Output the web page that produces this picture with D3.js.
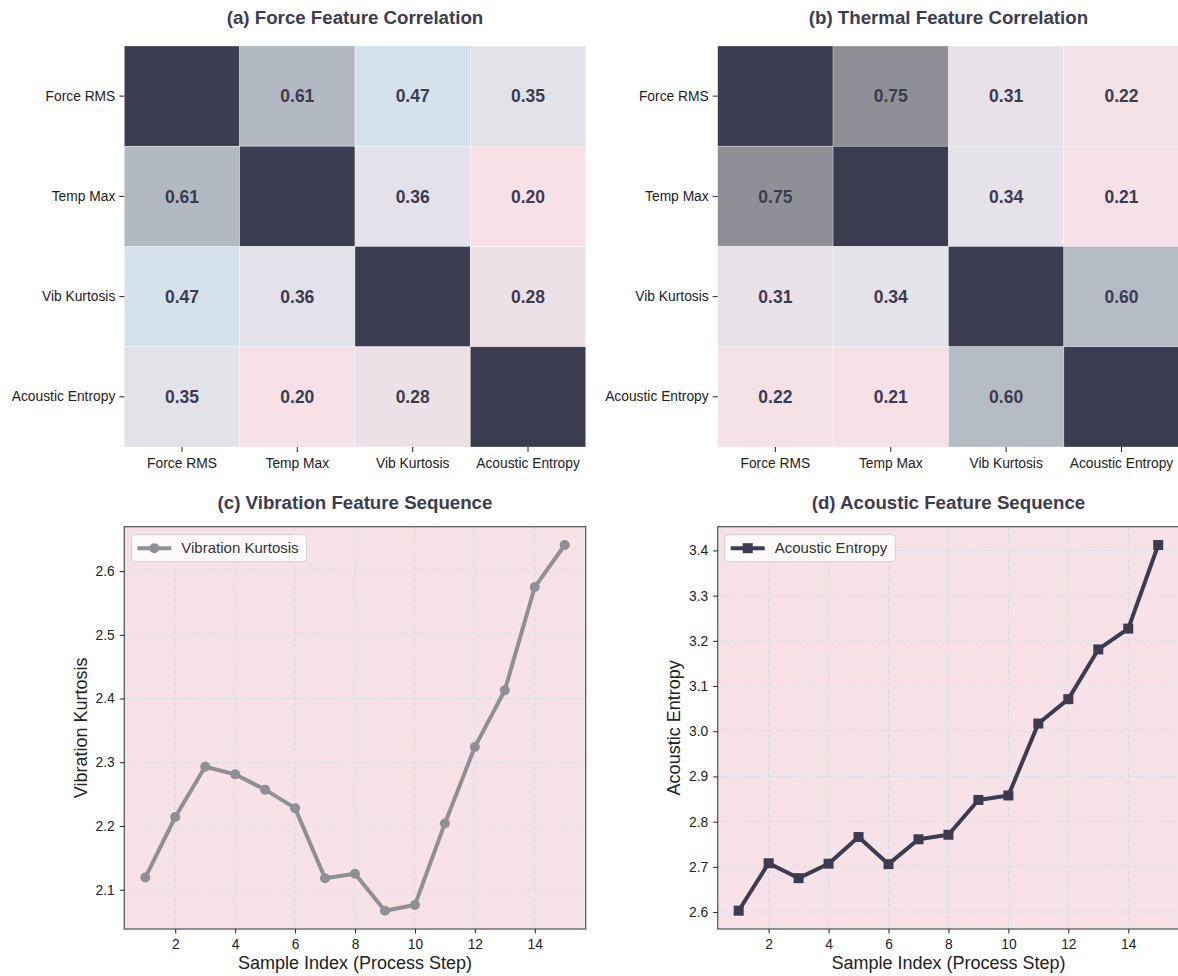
<!DOCTYPE html>
<html>
<head>
<meta charset="utf-8">
<script src="https://cdn.jsdelivr.net/npm/d3@7"></script>
<style>
  html, body { margin: 0; padding: 0; background: #ffffff; }
  svg { display: block; font-family: "Liberation Sans", Arial, sans-serif; }
</style>
</head>
<body>
<div id="chart"></div>
<script>
// ---- data ----
const features = ["Force RMS", "Temp Max", "Vib Kurtosis", "Acoustic Entropy"];

const forceCorr = [
  [1.00, 0.61, 0.47, 0.35],
  [0.61, 1.00, 0.36, 0.20],
  [0.47, 0.36, 1.00, 0.28],
  [0.35, 0.20, 0.28, 1.00]
];

const thermalCorr = [
  [1.00, 0.75, 0.31, 0.22],
  [0.75, 1.00, 0.34, 0.21],
  [0.31, 0.34, 1.00, 0.60],
  [0.22, 0.21, 0.60, 1.00]
];

const sampleIndex = [1, 2, 3, 4, 5, 6, 7, 8, 9, 10, 11, 12, 13, 14, 15];
const vibKurtosis = [2.119, 2.214, 2.293, 2.281, 2.257, 2.228, 2.118, 2.125, 2.067, 2.076, 2.204, 2.324, 2.413, 2.575, 2.641];
const acousticEntropy = [2.603, 2.708, 2.675, 2.707, 2.766, 2.706, 2.761, 2.771, 2.848, 2.858, 3.017, 3.071, 3.181, 3.227, 3.412];

const xTickValues = [2, 4, 6, 8, 10, 12, 14];
const vibTickValues = [2.1, 2.2, 2.3, 2.4, 2.5, 2.6];
const acoTickValues = [2.6, 2.7, 2.8, 2.9, 3.0, 3.1, 3.2, 3.3, 3.4];

// ---- styling ----
const W = 1178, H = 976;
const dark = "#3c3c50";
const titleColor = "#3c3c50";
const tickColor = "#222222";
const panelBg = "#f7e2e7";
const gridColor = "#d6e0ea";
const spineColor = "#5c5c5c";
const lineWidth = 4;
const markerR = 5;

const corrColor = d3.scaleLinear()
  .domain([0.20, 0.47, 0.75, 1.00])
  .range(["#f7e1e6", "#d5e2ec", "#8f9097", "#3c3c50"])
  .clamp(true);

const svg = d3.select("#chart").append("svg")
  .attr("width", W).attr("height", H);
svg.append("rect").attr("width", W).attr("height", H).attr("fill", "#ffffff");

// panel boxes
const colL = { left: 124.3, right: 585.7 };
const colR = { left: 717.7, right: 1179.2 };
const rowTop = { top: 46, bottom: 447 };
const rowBot = { top: 526.7, bottom: 929 };

function title(text, box, y) {
  svg.append("text")
    .attr("x", (box.left + box.right) / 2)
    .attr("y", y)
    .attr("text-anchor", "middle")
    .attr("font-size", "18.7px")
    .attr("font-weight", "bold")
    .attr("fill", titleColor)
    .text(text);
}

function styleAxis(g, fontSize) {
  g.select(".domain").remove();
  g.selectAll(".tick line").attr("stroke", "#222").attr("stroke-width", 1);
  g.selectAll(".tick text")
    .attr("fill", tickColor)
    .attr("font-size", fontSize)
    .attr("font-family", "\"Liberation Sans\", Arial, sans-serif");
}

// ---- correlation heatmap ----
function heatmap(matrix, box, label) {
  const x = d3.scaleBand().domain(features).range([box.left, box.right]);
  const y = d3.scaleBand().domain(features).range([rowTop.top, rowTop.bottom]);

  const cells = [];
  matrix.forEach((row, i) => row.forEach((v, j) => cells.push({ r: features[i], c: features[j], v, diag: i === j })));

  const g = svg.append("g");
  g.selectAll("rect").data(cells).join("rect")
    .attr("x", d => x(d.c))
    .attr("y", d => y(d.r))
    .attr("width", x.bandwidth())
    .attr("height", y.bandwidth())
    .attr("fill", d => corrColor(d.v))
    .attr("stroke", "rgba(255,255,255,0.5)")
    .attr("stroke-width", 0.6);

  g.selectAll("text.val").data(cells.filter(d => !d.diag)).join("text")
    .attr("class", "val")
    .attr("x", d => x(d.c) + x.bandwidth() / 2)
    .attr("y", d => y(d.r) + y.bandwidth() / 2)
    .attr("dy", "0.36em")
    .attr("text-anchor", "middle")
    .attr("font-size", "17.5px")
    .attr("font-weight", "bold")
    .attr("fill", dark)
    .text(d => d.v.toFixed(2));

  const ax = svg.append("g")
    .attr("transform", `translate(0,${rowTop.bottom})`)
    .call(d3.axisBottom(x).tickSize(5).tickPadding(6));
  styleAxis(ax, "13.8px");

  const ay = svg.append("g")
    .attr("transform", `translate(${box.left},0)`)
    .call(d3.axisLeft(y).tickSize(5).tickPadding(4));
  styleAxis(ay, "13.8px");

  title(label, box, 24);
}

heatmap(forceCorr, colL, "(a) Force Feature Correlation");
heatmap(thermalCorr, colR, "(b) Thermal Feature Correlation");

// ---- sequence line plots ----
function padded(values) {
  const [lo, hi] = d3.extent(values);
  const m = (hi - lo) * 0.05;
  return [lo - m, hi + m];
}

function linePanel(values, box, yTicks, yLabel, label, color, marker, legendText) {
  const x = d3.scaleLinear()
    .domain([sampleIndex[0] - 0.7, sampleIndex[sampleIndex.length - 1] + 0.7])
    .range([box.left, box.right]);
  const y = d3.scaleLinear().domain(padded(values)).range([rowBot.bottom, rowBot.top]);

  const clipId = "clip" + label.charAt(1);
  svg.append("clipPath").attr("id", clipId)
    .append("rect")
    .attr("x", box.left).attr("y", rowBot.top)
    .attr("width", box.right - box.left).attr("height", rowBot.bottom - rowBot.top);

  svg.append("rect")
    .attr("x", box.left).attr("y", rowBot.top)
    .attr("width", box.right - box.left).attr("height", rowBot.bottom - rowBot.top)
    .attr("fill", panelBg);

  // grid
  const grid = svg.append("g").attr("clip-path", `url(#${clipId})`);
  grid.selectAll("line.gx").data(xTickValues).join("line")
    .attr("x1", d => x(d)).attr("x2", d => x(d))
    .attr("y1", rowBot.top).attr("y2", rowBot.bottom)
    .attr("stroke", gridColor).attr("stroke-width", 1).attr("stroke-dasharray", "4,2.5");
  grid.selectAll("line.gy").data(yTicks).join("line")
    .attr("x1", box.left).attr("x2", box.right)
    .attr("y1", d => y(d)).attr("y2", d => y(d))
    .attr("stroke", gridColor).attr("stroke-width", 1).attr("stroke-dasharray", "4,2.5");

  // series
  const pts = sampleIndex.map((s, i) => [s, values[i]]);
  const plot = svg.append("g").attr("clip-path", `url(#${clipId})`);
  plot.append("path")
    .datum(pts)
    .attr("d", d3.line().x(d => x(d[0])).y(d => y(d[1])))
    .attr("fill", "none")
    .attr("stroke", color)
    .attr("stroke-width", lineWidth)
    .attr("stroke-linejoin", "round");

  if (marker === "circle") {
    plot.selectAll("circle").data(pts).join("circle")
      .attr("cx", d => x(d[0])).attr("cy", d => y(d[1]))
      .attr("r", markerR).attr("fill", color);
  } else {
    plot.selectAll("rect.m").data(pts).join("rect")
      .attr("class", "m")
      .attr("x", d => x(d[0]) - markerR).attr("y", d => y(d[1]) - markerR)
      .attr("width", markerR * 2).attr("height", markerR * 2).attr("fill", color);
  }

  // spines
  svg.append("rect")
    .attr("x", box.left).attr("y", rowBot.top)
    .attr("width", box.right - box.left).attr("height", rowBot.bottom - rowBot.top)
    .attr("fill", "none").attr("stroke", spineColor).attr("stroke-width", 1.3);

  // axes
  const ax = svg.append("g")
    .attr("transform", `translate(0,${rowBot.bottom})`)
    .call(d3.axisBottom(x).tickValues(xTickValues).tickFormat(d3.format("d")).tickSize(4.5).tickPadding(6));
  styleAxis(ax, "13.8px");

  const ay = svg.append("g")
    .attr("transform", `translate(${box.left},0)`)
    .call(d3.axisLeft(y).tickValues(yTicks).tickFormat(d3.format(".1f")).tickSize(4.5).tickPadding(5));
  styleAxis(ay, "13.8px");

  // axis labels
  svg.append("text")
    .attr("x", (box.left + box.right) / 2)
    .attr("y", 969)
    .attr("text-anchor", "middle")
    .attr("font-size", "18px")
    .attr("fill", tickColor)
    .text("Sample Index (Process Step)");

  svg.append("text")
    .attr("transform", `translate(${box.left - 44},${(rowBot.top + rowBot.bottom) / 2}) rotate(-90)`)
    .attr("dy", "0.35em")
    .attr("text-anchor", "middle")
    .attr("font-size", "18px")
    .attr("fill", tickColor)
    .text(yLabel);

  // legend
  const lg = svg.append("g").attr("transform", `translate(${box.left + 7},${rowBot.top + 8})`);
  const lt = lg.append("text")
    .attr("x", 50).attr("y", 13.5).attr("dy", "0.35em")
    .attr("font-size", "15px")
    .attr("fill", "#333333")
    .text(legendText);
  const tw = lt.node().getComputedTextLength();
  lg.insert("rect", "text")
    .attr("x", 0).attr("y", 0)
    .attr("width", 50 + tw + 8).attr("height", 27)
    .attr("rx", 3.5)
    .attr("fill", "rgba(255,255,255,0.8)")
    .attr("stroke", "#d2d2d2").attr("stroke-width", 1);
  lg.append("line")
    .attr("x1", 6).attr("x2", 40).attr("y1", 13.5).attr("y2", 13.5)
    .attr("stroke", color).attr("stroke-width", lineWidth);
  if (marker === "circle") {
    lg.append("circle").attr("cx", 23).attr("cy", 13.5).attr("r", markerR).attr("fill", color);
  } else {
    lg.append("rect").attr("x", 23 - markerR).attr("y", 13.5 - markerR)
      .attr("width", markerR * 2).attr("height", markerR * 2).attr("fill", color);
  }

  title(label, box, 509);
}

linePanel(vibKurtosis, colL, vibTickValues, "Vibration Kurtosis",
  "(c) Vibration Feature Sequence", "#8f9095", "circle", "Vibration Kurtosis");
linePanel(acousticEntropy, colR, acoTickValues, "Acoustic Entropy",
  "(d) Acoustic Feature Sequence", dark, "square", "Acoustic Entropy");
</script>
</body>
</html>
